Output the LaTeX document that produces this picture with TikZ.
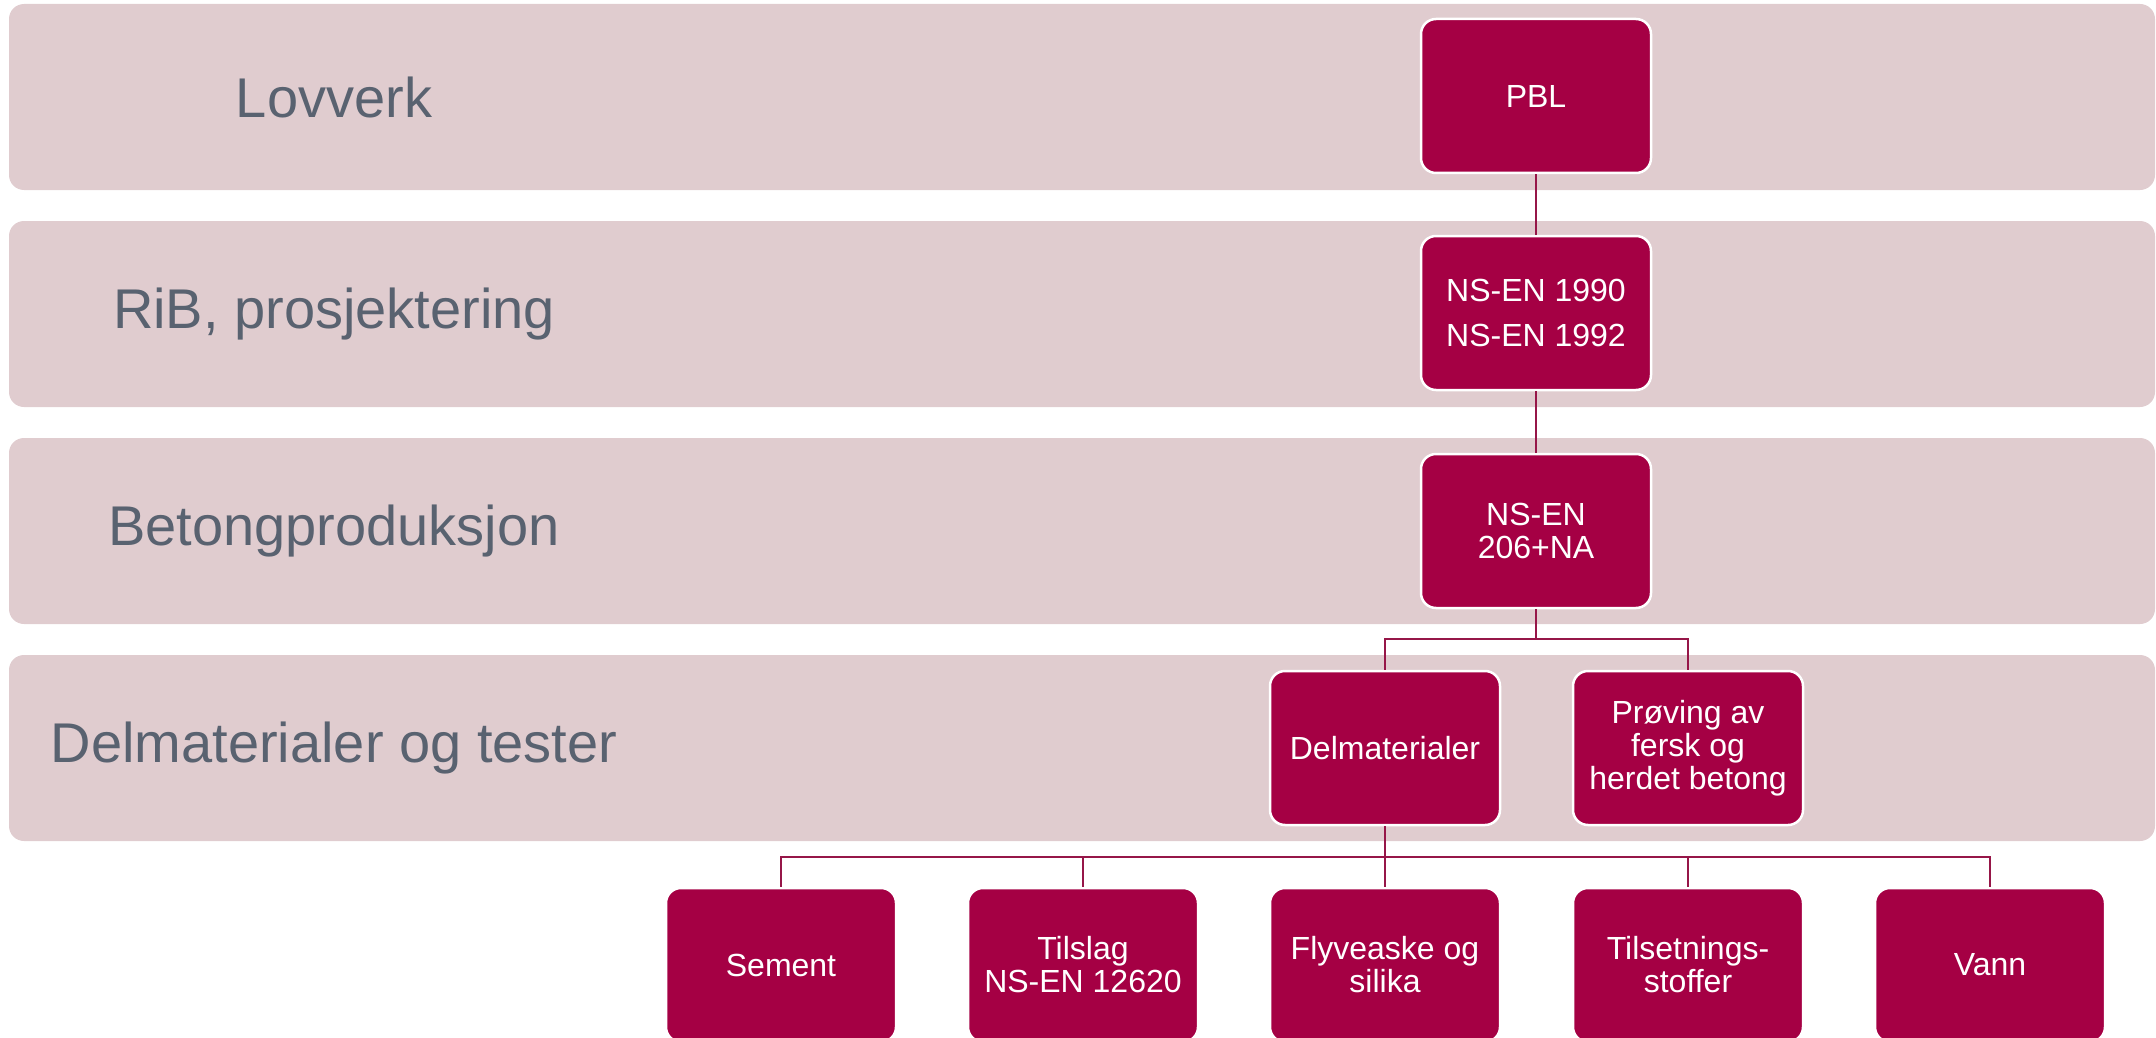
\documentclass[tikz,border=0pt]{standalone}
\usepackage{fontspec}
\setmainfont{Liberation Sans}
\definecolor{bandfill}{RGB}{224,204,207}
\definecolor{boxfill}{RGB}{165,0,68}
\definecolor{linecol}{RGB}{150,22,72}
\definecolor{labelcol}{RGB}{89,98,112}
\begin{document}
\begin{tikzpicture}[x=1pt,y=-1pt,
  band/.style={fill=bandfill, draw=none, rounded corners=15pt, minimum width=2146pt, minimum height=186pt, inner sep=0pt},
  bandlabel/.style={text=labelcol, font=\fontsize{56}{62}\selectfont, inner sep=0pt},
  box/.style={fill=boxfill, draw=white, line width=2.5pt, rounded corners=15pt, minimum width=230pt, minimum height=154pt, inner sep=0pt, align=center, text=white, font=\fontsize{32}{33}\selectfont},
  conn/.style={draw=linecol, line width=2.7pt}]
\useasboundingbox (0,0) rectangle (2156,1038);
\clip (0,0) rectangle (2156,1038);

% bands
\node[band] (b1) at (1082,97) {};
\node[band] (b2) at (1082,314) {};
\node[band] (b3) at (1082,531) {};
\node[band] (b4) at (1082,748) {};

\node[bandlabel] (l1) at (334,97) {Lovverk};
\node[bandlabel] (l2) at (334,314) {RiB, prosjektering};
\node[bandlabel] (l3) at (334,531) {Betongproduksjon};
\node[bandlabel] (l4) at (334,748) {Delmaterialer og tester};

% boxes
\node[box] (pbl) at (1536,96) {PBL};
\node[box] (ns1990) at (1536,313) {NS-EN 1990\\[12pt]NS-EN 1992};
\node[box] (ns206) at (1536,531) {NS-EN\\206+NA};
\node[box] (delm) at (1385,748) {Delmaterialer};
\node[box] (prov) at (1688,748) {Prøving av\\fersk og\\herdet betong};
\node[box] (sement) at (781,965) {Sement};
\node[box] (tilslag) at (1083,965) {Tilslag\\NS-EN 12620};
\node[box] (flyv) at (1385,965) {Flyveaske og\\silika};
\node[box] (tilset) at (1688,965) {Tilsetnings-\\stoffer};
\node[box] (vann) at (1990,965) {Vann};

% connectors
\coordinate (j1) at (1536,639);
\coordinate (j2) at (1385,857);
\draw[conn] (pbl) -- (ns1990);
\draw[conn] (ns1990) -- (ns206);
\draw[conn] (ns206) -- (j1);
\draw[conn] (j1) -| (delm);
\draw[conn] (j1) -| (prov);
\draw[conn] (delm) -- (j2);
\draw[conn] (j2) -| (sement);
\draw[conn] (j2) -| (tilslag);
\draw[conn] (j2) -- (flyv);
\draw[conn] (j2) -| (tilset);
\draw[conn] (j2) -| (vann);
\end{tikzpicture}
\end{document}
